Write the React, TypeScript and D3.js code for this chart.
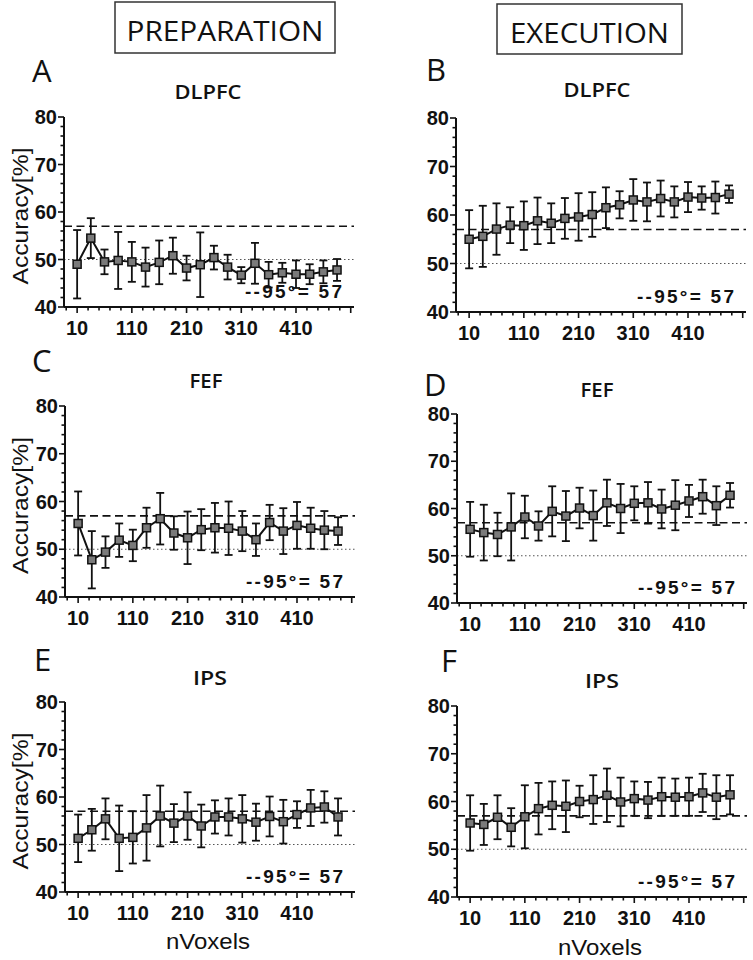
import React from "react";
import * as d3 from "d3";

// ---------- data ----------
const nVoxels = [10, 35, 60, 85, 110, 135, 160, 185, 210, 235, 260, 285, 310, 335, 360, 385, 410, 435, 460, 485];
const xTickValues = [10, 110, 210, 310, 410];
const yTickValues = [40, 50, 60, 70, 80];
const threshold = 57;
const chance = 50;
const thresholdLabel = "--95°= 57";
const columnTitles = ["PREPARATION", "EXECUTION"];
const panelLetters = ["A", "B", "C", "D", "E", "F"];
const regionNames = ["DLPFC", "DLPFC", "FEF", "FEF", "IPS", "IPS"];
const yAxisTitle = "Accuracy[%]";
const xAxisTitle = "nVoxels";

const prepDLPFCMean = [49.0, 54.5, 49.5, 49.8, 49.5, 48.4, 49.4, 50.8, 48.2, 48.9, 50.4, 48.4, 46.7, 49.2, 46.8, 47.2, 46.9, 46.9, 47.4, 47.8];
const prepDLPFCErr = [7.2, 4.2, 2.6, 6.0, 4.2, 4.1, 4.6, 3.8, 2.6, 6.8, 2.5, 2.6, 1.7, 4.3, 2.7, 2.1, 2.9, 2.1, 2.4, 2.3];

const execDLPFCMean = [55.0, 55.6, 57.1, 57.9, 57.8, 58.8, 58.3, 59.3, 59.6, 60.1, 61.5, 62.1, 63.1, 62.7, 63.4, 62.7, 63.7, 63.5, 63.6, 64.3];
const execDLPFCErr = [6.0, 6.3, 5.3, 3.7, 5.0, 4.8, 4.1, 4.2, 4.9, 4.6, 4.2, 2.8, 4.3, 4.0, 3.7, 3.2, 3.1, 2.4, 3.3, 1.8];

const prepFEFMean = [55.4, 47.8, 49.4, 51.9, 50.8, 54.5, 56.4, 53.4, 52.4, 54.1, 54.5, 54.4, 53.8, 52.0, 55.6, 53.8, 55.0, 54.4, 54.0, 53.8];
const prepFEFErr = [6.7, 6.0, 3.3, 3.5, 3.3, 4.2, 5.4, 3.5, 5.5, 4.3, 5.2, 5.6, 4.2, 3.4, 3.7, 4.8, 4.9, 4.3, 4.0, 2.9];

const execFEFMean = [55.6, 54.9, 54.5, 56.1, 58.2, 56.3, 59.4, 58.4, 60.1, 58.5, 61.2, 60.0, 61.1, 61.2, 59.9, 60.7, 61.6, 62.5, 60.6, 62.8];
const execFEFErr = [5.8, 5.9, 4.6, 7.1, 4.5, 3.1, 5.3, 5.3, 4.3, 5.3, 4.9, 5.2, 3.6, 4.4, 4.1, 5.3, 3.4, 3.6, 4.1, 2.6];

const prepIPSMean = [51.3, 53.1, 55.4, 51.3, 51.5, 53.5, 56.0, 54.5, 56.0, 53.9, 55.8, 55.8, 55.4, 54.7, 55.9, 54.8, 56.3, 57.7, 57.9, 55.8];
const prepIPSErr = [5.0, 4.4, 4.3, 6.9, 5.5, 6.9, 6.4, 4.0, 5.0, 4.5, 3.5, 3.9, 5.0, 3.9, 4.2, 4.6, 2.8, 3.8, 3.3, 3.9];

const execIPSMean = [55.5, 55.2, 56.7, 54.6, 56.8, 58.5, 59.2, 59.0, 60.0, 60.4, 61.3, 59.9, 60.6, 60.3, 61.0, 60.9, 61.0, 61.8, 60.9, 61.4];
const execIPSErr = [5.8, 4.3, 4.6, 4.0, 6.6, 5.4, 5.0, 5.4, 3.3, 5.1, 5.6, 5.1, 3.6, 3.8, 4.0, 3.9, 4.0, 4.0, 4.6, 4.1];

const panelMeans = [prepDLPFCMean, execDLPFCMean, prepFEFMean, execFEFMean, prepIPSMean, execIPSMean];
const panelErrs = [prepDLPFCErr, execDLPFCErr, prepFEFErr, execFEFErr, prepIPSErr, execIPSErr];

// ---------- layout ----------
const W = 753;
const H = 960;
const X_DOMAIN: [number, number] = [-14, 516];
const PLOT_W = 290;
const layout = [
  { x0: 64, yT: 117, yB: 307, lx: 32, ly: 82, tcx: 208, ty: 99 },
  { x0: 456, yT: 118, yB: 312, lx: 426, ly: 81, tcx: 597, ty: 97 },
  { x0: 65, yT: 406, yB: 597, lx: 32, ly: 372, tcx: 206, ty: 388 },
  { x0: 457, yT: 414, yB: 603, lx: 424, ly: 396, tcx: 597, ty: 397 },
  { x0: 65, yT: 702, yB: 892, lx: 34, ly: 671, tcx: 210, ty: 685 },
  { x0: 457, yT: 706, yB: 897, lx: 441, ly: 672, tcx: 602, ty: 688 },
];
const titleLen: Record<string, number> = { DLPFC: 67, FEF: 33, IPS: 34 };
const boxes = [
  { x: 115, y: 2, w: 220, h: 51, cx: 225, by: 41, len: 197 },
  { x: 497, y: 4, w: 185, h: 50, cx: 589.5, by: 43, len: 159 },
];

const INK = "#111";
const NUM_FONT = "'Liberation Sans', Arial, Helvetica, sans-serif";
const HEAD_FONT = "'Open Sans', 'Noto Sans', sans-serif";

function Panel({ idx }: { idx: number }) {
  const L = layout[idx];
  const x = d3.scaleLinear().domain(X_DOMAIN).range([L.x0, L.x0 + PLOT_W]);
  const y = d3.scaleLinear().domain([40, 80]).range([L.yB, L.yT]);
  const x1 = L.x0 + PLOT_W;
  const means = panelMeans[idx];
  const errs = panelErrs[idx];
  const pts = nVoxels.map((v, i) => ({ v, m: means[i], e: errs[i] }));
  const line = d3
    .line<{ v: number; m: number }>()
    .x((d) => x(d.v))
    .y((d) => y(d.m));
  const yMinor = d3.range(40, 80.01, 2);
  const xMinor = d3.range(-10, 511, 20);
  const left = idx % 2 === 0;
  const sq = 8;

  return (
    <g>
      <line x1={L.x0} x2={x1} y1={y(chance)} y2={y(chance)} stroke="#555" strokeWidth={1.2} strokeDasharray="1.5 2.5" />
      <line x1={L.x0} x2={x1} y1={y(threshold)} y2={y(threshold)} stroke={INK} strokeWidth={1.6} strokeDasharray="8 4.5" />
      <path d={line(pts) || ""} fill="none" stroke={INK} strokeWidth={2} />
      {pts.map((d, i) => (
        <g key={i} stroke={INK} strokeWidth={1.8}>
          <line x1={x(d.v)} x2={x(d.v)} y1={y(d.m - d.e)} y2={y(d.m + d.e)} />
          <line x1={x(d.v) - 4} x2={x(d.v) + 4} y1={y(d.m + d.e)} y2={y(d.m + d.e)} />
          <line x1={x(d.v) - 4} x2={x(d.v) + 4} y1={y(d.m - d.e)} y2={y(d.m - d.e)} />
        </g>
      ))}
      {pts.map((d, i) => (
        <rect key={i} x={x(d.v) - sq / 2} y={y(d.m) - sq / 2} width={sq} height={sq} fill="#7a7a7a" stroke={INK} strokeWidth={1.5} />
      ))}
      <line x1={L.x0} x2={L.x0} y1={y(80)} y2={y(40)} stroke={INK} strokeWidth={2} />
      <line x1={L.x0} x2={x1} y1={y(40)} y2={y(40)} stroke={INK} strokeWidth={2} />
      {yMinor.map((t) => (
        <line key={"ym" + t} x1={L.x0} x2={L.x0 - (t % 10 === 0 ? 6 : 3.5)} y1={y(t)} y2={y(t)} stroke={INK} strokeWidth={1.6} />
      ))}
      {xMinor.map((t) => (
        <line key={"xm" + t} x1={x(t)} x2={x(t)} y1={y(40)} y2={y(40) + ((t - 10) % 100 === 0 ? 6 : 3.5)} stroke={INK} strokeWidth={1.6} />
      ))}
      {yTickValues.map((t) => (
        <text key={"yl" + t} x={L.x0 - 7} y={y(t)} dy="0.36em" textAnchor="end" fontFamily={NUM_FONT} fontWeight="bold" fontSize={20} fill={INK}>
          {t}
        </text>
      ))}
      {xTickValues.map((t) => (
        <text key={"xl" + t} x={x(t)} y={y(40) + 28} textAnchor="middle" fontFamily={NUM_FONT} fontWeight="bold" fontSize={20} fill={INK}>
          {t}
        </text>
      ))}
      <text x={x1 - 12} y={y(40) - 9} textAnchor="end" fontFamily={NUM_FONT} fontWeight="bold" fontSize={19} fill={INK} textLength={97} lengthAdjust="spacing">
        {thresholdLabel}
      </text>
      <text x={L.lx} y={L.ly} fontFamily={HEAD_FONT} fontSize={31} fill={INK}>
        {panelLetters[idx]}
      </text>
      <text x={L.tcx} y={L.ty} textAnchor="middle" fontFamily={HEAD_FONT} fontWeight={600} fontSize={19} fill={INK} textLength={titleLen[regionNames[idx]]} lengthAdjust="spacingAndGlyphs">
        {regionNames[idx]}
      </text>
      {left && (
        <text transform={`translate(28,${(L.yT + L.yB) / 2 + 4}) rotate(-90)`} textAnchor="middle" fontFamily={NUM_FONT} fontSize={22} fill={INK} textLength={137} lengthAdjust="spacingAndGlyphs">
          {yAxisTitle}
        </text>
      )}
      {idx >= 4 && (
        <text x={x(X_DOMAIN[0]) + 143} y={idx === 4 ? 949 : 955} textAnchor="middle" fontFamily={NUM_FONT} fontSize={22} fill={INK} textLength={84} lengthAdjust="spacingAndGlyphs">
          {xAxisTitle}
        </text>
      )}
    </g>
  );
}

export default function App() {
  return (
    <svg width={W} height={H} style={{ position: "absolute", left: 0, top: 0, display: "block", background: "#fff" }}>
      <rect x={0} y={0} width={W} height={H} fill="#fff" />
      {boxes.map((b, i) => (
        <g key={i}>
          <rect x={b.x} y={b.y} width={b.w} height={b.h} fill="none" stroke="#333" strokeWidth={1.5} />
          <text x={b.cx} y={b.by} textAnchor="middle" fontFamily={HEAD_FONT} fontSize={28} fill={INK} textLength={b.len} lengthAdjust="spacingAndGlyphs">
            {columnTitles[i]}
          </text>
        </g>
      ))}
      {panelLetters.map((_, i) => (
        <Panel key={i} idx={i} />
      ))}
    </svg>
  );
}
